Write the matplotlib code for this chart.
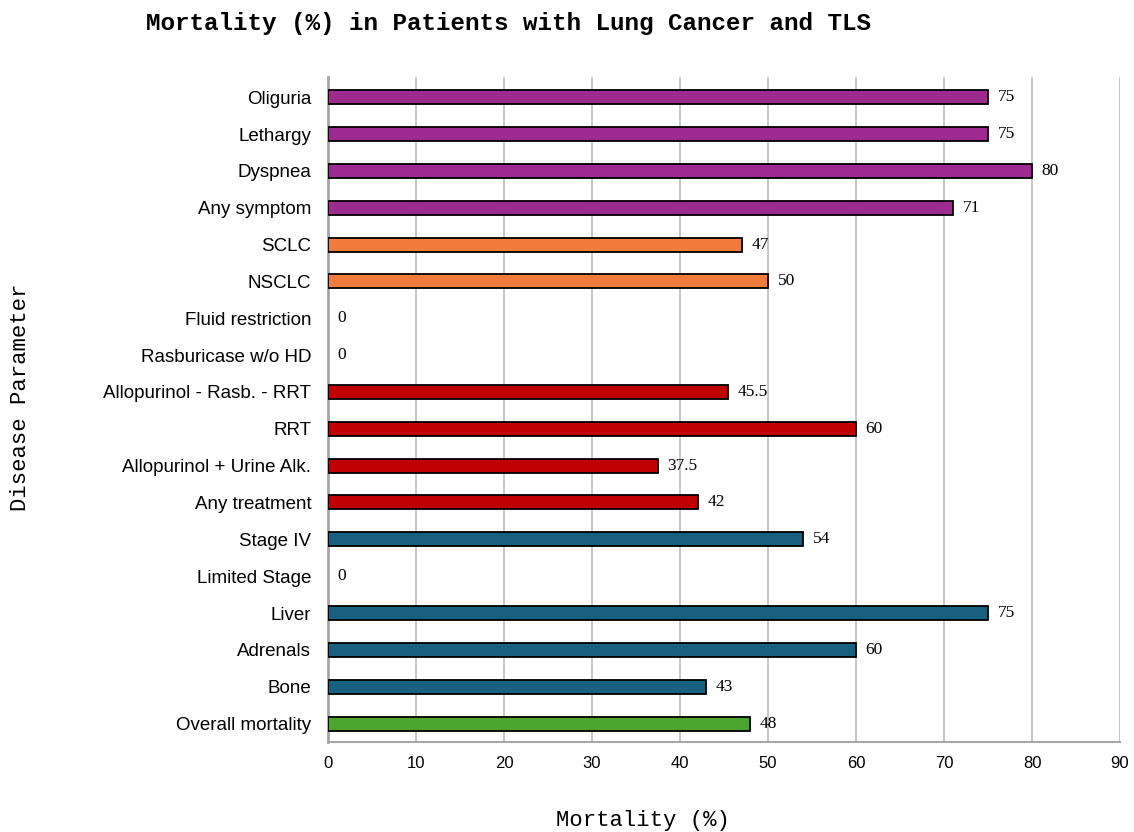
import matplotlib

matplotlib.use("Agg")
import matplotlib.pyplot as plt

categories = [
    "Oliguria", "Lethargy", "Dyspnea", "Any symptom",
    "SCLC", "NSCLC",
    "Fluid restriction", "Rasburicase w/o HD", "Allopurinol - Rasb. - RRT", "RRT",
    "Allopurinol + Urine Alk.", "Any treatment",
    "Stage IV", "Limited Stage", "Liver", "Adrenals", "Bone",
    "Overall mortality",
]
mortality = [75, 75, 80, 71, 47, 50, 0, 0, 45.5, 60, 37.5, 42, 54, 0, 75, 60, 43, 48]
groups = ["sym"] * 4 + ["hist"] * 2 + ["tx"] * 6 + ["met"] * 5 + ["all"]
group_colors = {"sym": "#9C2A8F", "hist": "#F07B3A", "tx": "#C00000",
                "met": "#17607F", "all": "#4CA52F"}

fig = plt.figure(figsize=(11.34, 8.32), dpi=100)
ax = fig.add_axes([0.2892, 0.1082, 0.6985, 0.7993])

ypos = list(range(len(categories)))[::-1]
colors = [group_colors[g] for g in groups]
# zero-height bars get no outline so nothing shows at the axis
edges = [1.3 if v > 0 else 0 for v in mortality]
ax.barh(ypos, mortality, height=0.38, color=colors, edgecolor="black", linewidth=edges, zorder=3)

for y, v in zip(ypos, mortality):
    ax.text(v + 1.1, y, f"{v:g}", va="center", ha="left", fontsize=12.5,
            family="Liberation Serif", zorder=4)

ax.set_xlim(0, 90)
ax.set_ylim(-0.5, 17.55)
ax.set_xticks(range(0, 91, 10))
ax.set_yticks(ypos)
ax.set_yticklabels(categories, family="Liberation Sans", fontsize=13.5)
for lab in ax.get_xticklabels():
    lab.set_family("Liberation Sans")
    lab.set_fontsize(12)
ax.tick_params(axis="both", length=0)
ax.tick_params(axis="x", pad=10)
ax.tick_params(axis="y", pad=12)

ax.grid(axis="x", color="#BFBFBF", linewidth=1.2, zorder=0)
for s in ("top", "right"):
    ax.spines[s].set_visible(False)
ax.spines["left"].set_color("#A6A6A6")
ax.spines["left"].set_linewidth(2)
ax.spines["bottom"].set_color("#A6A6A6")
ax.spines["bottom"].set_linewidth(1.5)

fig.text(0.567, 0.014, "Mortality (%)", ha="center", va="center",
         family="Liberation Mono", fontsize=16)
fig.text(0.018, 0.522, "Disease Parameter", rotation=90, va="center", ha="center",
         family="Liberation Mono", fontsize=16)
fig.text(0.448, 0.972, "Mortality (%) in Patients with Lung Cancer and TLS",
         ha="center", va="center", family="Liberation Mono", fontweight="bold", fontsize=17.5)

fig.savefig("out.png", dpi=100)
